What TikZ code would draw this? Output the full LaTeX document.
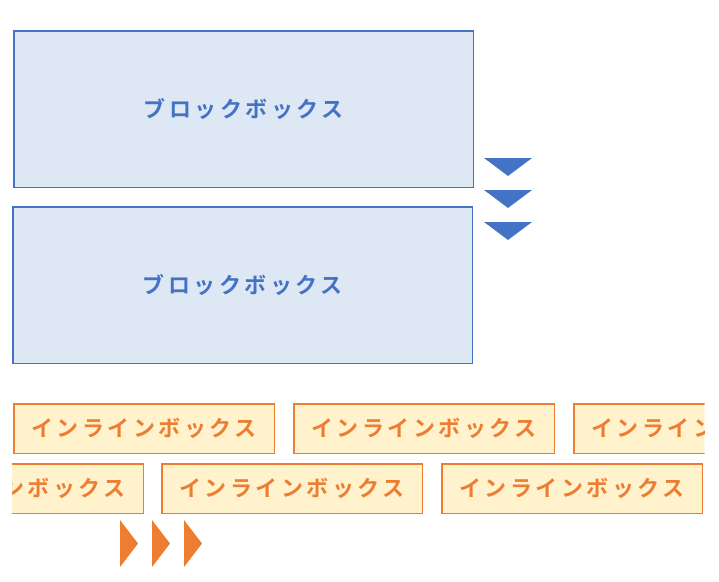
\documentclass[tikz,border=0pt]{standalone}
\usepackage{fontspec}
\newfontfamily\jp[LetterSpace=16]{Noto Sans CJK JP Bold}
\definecolor{bfill}{HTML}{DEE8F5}
\definecolor{bline}{HTML}{4472C4}
\definecolor{ifill}{HTML}{FFF2CC}
\definecolor{iline}{HTML}{ED7D31}
\tikzset{
 blk/.style={draw=bline,fill=bfill,line width=1.5pt,minimum width=459.5pt,minimum height=156.5pt,font=\jp\fontsize{22}{26}\selectfont,text=bline,anchor=north west},
 inl/.style={draw=iline,fill=ifill,line width=1.5pt,minimum width=260.5pt,minimum height=49.5pt,font=\jp\fontsize{22}{26}\selectfont,text=iline,anchor=north west,inner sep=0pt},
 tri/.style={fill=bline},
 otri/.style={fill=iline}
}
\begin{document}
\begin{tikzpicture}[x=1pt,y=-1pt]
\useasboundingbox (0,0) rectangle (719,581);
\node[blk] (b1) at (13,30) {ブロックボックス};
\node[blk] (b2) at (12,206) {ブロックボックス};
\foreach \y in {158,190,222} \fill[tri] (484,\y) -- (532,\y) -- (508,\y+18) -- cycle;
\begin{scope}
\clip (12,395) rectangle (704.5,525);
\node[inl] (i1) at (13,403) {インラインボックス};
\node[inl] (i2) at (293,403) {インラインボックス};
\node[inl] (i3) at (573,403) {インラインボックス};
\node[inl] (i4) at (-118,463) {インラインボックス};
\node[inl] (i5) at (161,463) {インラインボックス};
\node[inl] (i6) at (441,463) {インラインボックス};
\end{scope}
\foreach \x in {120,152,184} \fill[otri] (\x,520) -- (\x+18,543.5) -- (\x,567) -- cycle;
\end{tikzpicture}
\end{document}
